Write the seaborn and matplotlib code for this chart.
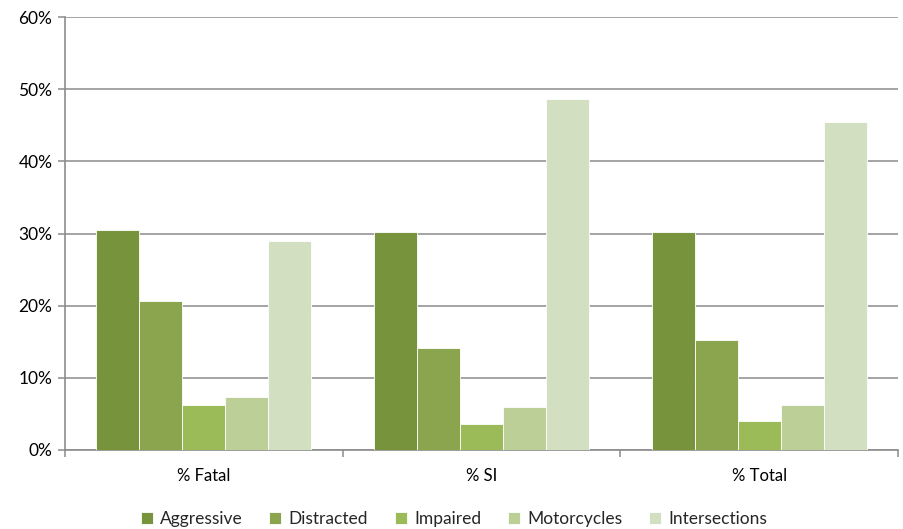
import matplotlib
matplotlib.use("Agg")
import matplotlib.pyplot as plt
import pandas as pd
import seaborn as sns
from matplotlib.ticker import PercentFormatter

# values (percent)
groups = ["% Fatal", "% SI", "% Total"]
aggressive = [30.5, 30.2, 30.2]
distracted = [20.7, 14.2, 15.2]
impaired = [6.3, 3.6, 4.0]
motorcycles = [7.3, 5.9, 6.3]
intersections = [29.0, 48.6, 45.4]

series = ["Aggressive", "Distracted", "Impaired", "Motorcycles", "Intersections"]
colors = ["#77933C", "#8BA54F", "#9BBB59", "#BBCF97", "#D2DFC0"]

rows = []
for name, vals in zip(series, [aggressive, distracted, impaired, motorcycles, intersections]):
    for g, v in zip(groups, vals):
        rows.append({"group": g, "series": name, "value": v})
df = pd.DataFrame(rows)

sns.set_style("white")
plt.rcParams["font.family"] = ["Lato", "DejaVu Sans"]

fig = plt.figure(figsize=(9.04, 5.29), dpi=100)
ax = fig.add_axes([65 / 904, 1 - 450 / 529, 833 / 904, 433 / 529])

sns.barplot(data=df, x="group", y="value", hue="series", hue_order=series,
            palette=colors, width=0.775, saturation=1, edgecolor="#ffffff",
            linewidth=0.6, ax=ax, zorder=3)

ax.set_ylim(0, 60)
ax.set_xlim(-0.5, 2.5)
ax.set_yticks(range(0, 61, 10))
ax.yaxis.set_major_formatter(PercentFormatter(decimals=0))
ax.yaxis.grid(True, color="#8c8c8c", linewidth=1.1, zorder=0)
ax.set_axisbelow(True)
ax.set_xlabel("")
ax.set_ylabel("")

for s in ["top", "right"]:
    ax.spines[s].set_visible(False)
for s in ["left", "bottom"]:
    ax.spines[s].set_color("#8c8c8c")
    ax.spines[s].set_linewidth(1.2)

ax.tick_params(axis="y", which="major", length=5, color="#8c8c8c", width=1.1,
               labelsize=12.5, labelcolor="#000000", pad=4, left=True)
ax.tick_params(axis="x", which="major", length=0, labelsize=12, labelcolor="#000000", pad=13)
ax.set_xticks([-0.5, 0.5, 1.5, 2.5], minor=True)
ax.tick_params(axis="x", which="minor", length=5, color="#8c8c8c", width=1.1, bottom=True)

# legend centred on the figure, below the axis
handles, labels = ax.get_legend_handles_labels()
ax.get_legend().remove()
fig.legend(handles, labels, loc="center", bbox_to_anchor=(0.502, 10 / 529), ncol=5,
           frameon=False, fontsize=12.5, handlelength=0.7, handleheight=0.7,
           handletextpad=0.4, columnspacing=1.55, borderpad=0)

fig.savefig("out.png", dpi=100)
